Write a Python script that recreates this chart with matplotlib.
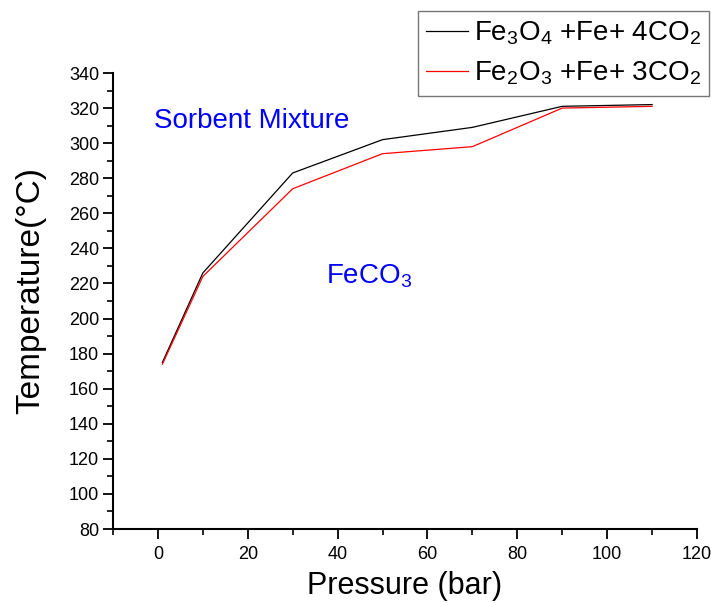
import matplotlib
matplotlib.use("Agg")
import matplotlib.pyplot as plt
from matplotlib.ticker import MultipleLocator

pressure = [1, 10, 30, 50, 70, 90, 110]
temp_fe3o4 = [175, 226, 283, 302, 309, 321, 322]
temp_fe2o3 = [174, 224, 274, 294, 298, 320, 321]
labels = [r"Fe$_3$O$_4$ +Fe+ 4CO$_2$", r"Fe$_2$O$_3$ +Fe+ 3CO$_2$"]

plt.rcParams['font.family'] = ['Liberation Sans Narrow', 'Liberation Sans', 'DejaVu Sans']
plt.rcParams['mathtext.fontset'] = 'custom'
plt.rcParams['mathtext.rm'] = 'Liberation Sans'

fig = plt.figure(figsize=(7.11, 6.03), dpi=100)
ax = fig.add_axes([113/711, 1-529/603, (697-113)/711, (529-73)/603])

l1, = ax.plot(pressure, temp_fe3o4, color='black', lw=0.9)
l2, = ax.plot(pressure, temp_fe2o3, color='red', lw=0.9)

ax.set_xlim(-10, 120)
ax.set_ylim(80, 340)
ax.xaxis.set_major_locator(MultipleLocator(20))
ax.xaxis.set_minor_locator(MultipleLocator(10))
ax.yaxis.set_major_locator(MultipleLocator(20))
ax.yaxis.set_minor_locator(MultipleLocator(10))
for s in ['top', 'right']:
    ax.spines[s].set_visible(False)
for s in ['left', 'bottom']:
    ax.spines[s].set_linewidth(1.5)
ax.tick_params(which='major', direction='out', length=7, width=1.3, labelsize=13, pad=3)
ax.tick_params(which='minor', direction='out', length=4, width=1.2)
ax.xaxis.set_tick_params(pad=5)

ax.set_xlabel("Pressure (bar)", fontsize=22, family=['Liberation Sans', 'DejaVu Sans'], labelpad=6)
ax.set_ylabel("Temperature(°C)", fontsize=24, family=['Liberation Sans', 'DejaVu Sans'])
ax.yaxis.set_label_coords((46 - 113) / 584, (529 - 290) / 456)

ax.text(-0.9, 312.5, "Sorbent Mixture", color='blue', fontsize=20,
        family=['Liberation Sans', 'DejaVu Sans'], va='center', ha='left')
ax.text(37.5, 224, r"FeCO$_3$", color='blue', fontsize=20,
        family=['Liberation Sans', 'DejaVu Sans'], va='center', ha='left')

leg = fig.legend([l1, l2], labels, loc='upper right', bbox_to_anchor=(709/711, 1-11/603),
                 prop={'family': 'Liberation Sans', 'size': 20}, frameon=True, fancybox=False,
                 edgecolor='#555555', handlelength=1.5, borderpad=0.3, labelspacing=0.45,
                 handletextpad=0.2, borderaxespad=0)
leg.get_frame().set_linewidth(1.0)

fig.savefig("out.png", dpi=100)
